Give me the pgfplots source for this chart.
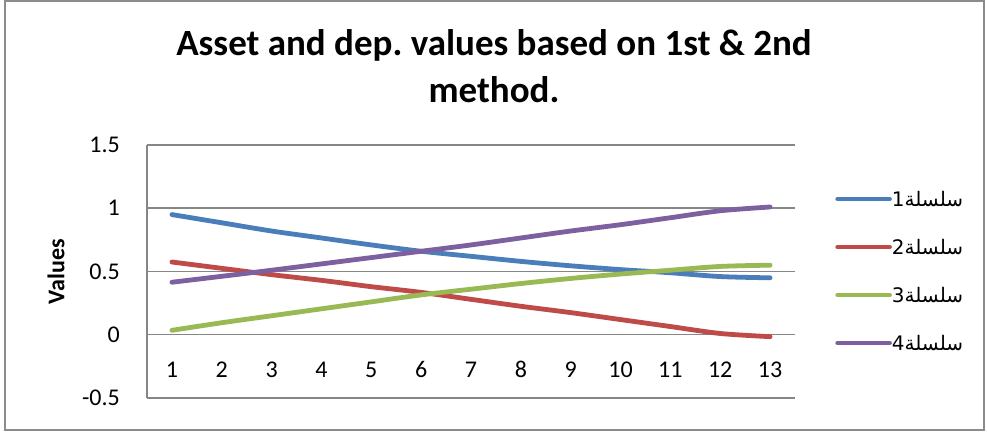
\documentclass[border=0pt]{standalone}
\usepackage{pgfplots}
\pgfplotsset{compat=1.18}
\usepackage{pgfplotstable}
\usepackage{fontspec}
\setmainfont{Carlito}
\newfontfamily\arabicfont[Script=Arabic]{DejaVu Sans}
\TeXXeTstate=1
\frenchspacing
\definecolor{sA}{HTML}{4A7EBB}
\definecolor{sB}{HTML}{BE4B48}
\definecolor{sC}{HTML}{98B954}
\definecolor{sD}{HTML}{7D60A0}
\definecolor{gridgray}{HTML}{868686}
\definecolor{framegray}{HTML}{8C8C8C}
\pgfplotstableread{
x  a      b       c      d
1  0.950  0.575   0.035  0.415
2  0.885  0.525   0.095  0.462
3  0.820  0.475   0.150  0.510
4  0.765  0.430   0.205  0.560
5  0.710  0.380   0.260  0.610
6  0.660  0.335   0.315  0.660
7  0.620  0.280   0.360  0.710
8  0.580  0.225   0.405  0.765
9  0.545  0.175   0.445  0.820
10 0.515  0.120   0.480  0.870
11 0.490  0.065   0.510  0.925
12 0.460  0.010   0.540  0.980
13 0.450  -0.015  0.550  1.010
}\datatable
\begin{document}
\begin{tikzpicture}
\useasboundingbox (0pt,0pt) rectangle (987pt,431pt);
\fill[white] (0pt,0pt) rectangle (987pt,431pt);
\draw[color=framegray, line width=1.5pt] (5pt,1pt) rectangle (984pt,430pt);
\node[font=\fontsize{37}{46}\bfseries\selectfont, anchor=base, inner sep=0pt] at (494pt,375.5pt) {Asset and dep. values based on 1st \& 2nd};
\node[font=\fontsize{37}{46}\bfseries\selectfont, anchor=base, inner sep=0pt] at (494pt,328.5pt) {method.};
\begin{axis}[
  at={(147pt,33pt)}, anchor=south west,
  width=648pt, height=253pt, scale only axis,
  xmin=0.5, xmax=13.5, ymin=-0.5, ymax=1.5,
  xtick={1,...,13}, ytick={-0.5,0,0.5,1,1.5},
  axis x line=middle, axis y line=left,
  axis line style={-, color=gridgray, line width=1.5pt},
  ymajorgrids, grid style={color=gridgray, line width=1.5pt},
  major tick length=0pt,
  /pgf/number format/assume math mode=true,
  tick label style={font=\fontsize{24}{29}\selectfont, text=black},
  yticklabel style={anchor=east, inner sep=0pt, xshift=-27pt},
  xticklabel style={anchor=base, inner sep=0pt, yshift=-43pt},
  ylabel={\textbf{Values}},
  every axis y label/.style={at={(axis description cs:-0.1404,0.5)}, rotate=90, anchor=center, font=\fontsize{24}{29}\selectfont},
  clip=false,
  legend style={at={(axis description cs:1.062,0.498)}, anchor=west, draw=none, fill=none, inner sep=0pt, row sep=28pt,
    nodes={inner sep=0pt, text height=16pt, text depth=4pt, anchor=base west},
    font=\arabicfont\fontsize{20}{25}\selectfont},
  legend cell align=left,
  legend image code/.code={\draw[#1, line width=4.5pt, line cap=round] (0pt,7pt) -- (52pt,7pt);},
]
\addplot[sA, line width=4.8pt, smooth, line cap=round] table[x=x, y=a] {\datatable};
\addlegendentry{\beginR سلسلة1\endR}
\addplot[sB, line width=4.8pt, smooth, line cap=round] table[x=x, y=b] {\datatable};
\addlegendentry{\beginR سلسلة2\endR}
\addplot[sC, line width=4.8pt, smooth, line cap=round] table[x=x, y=c] {\datatable};
\addlegendentry{\beginR سلسلة3\endR}
\addplot[sD, line width=4.8pt, smooth, line cap=round] table[x=x, y=d] {\datatable};
\addlegendentry{\beginR سلسلة4\endR}
\end{axis}
\end{tikzpicture}
\end{document}
